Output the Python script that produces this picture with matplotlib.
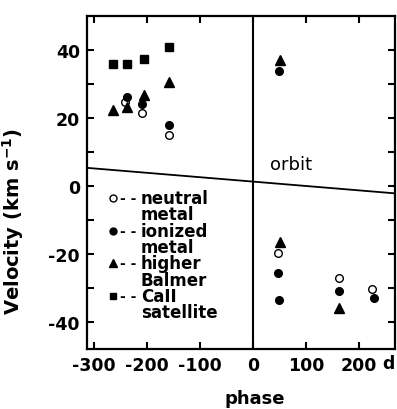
import matplotlib
matplotlib.use("Agg")
import matplotlib.pyplot as plt

plt.rcParams["font.family"] = ["DejaVu Sans"]
plt.rcParams["font.weight"] = "bold"
plt.rcParams["mathtext.default"] = "bf"

# neutral metal (open circles)
neutral_phase = [-242, -209, -159, 47, 162, 225]
neutral_vel = [24.8, 21.3, 15.1, -19.6, -27.1, -30.4]
# ionized metal (filled circles)
ionized_phase = [-238, -209, -159, 49, 47, 49, 162, 228]
ionized_vel = [26.0, 24.2, 18.0, 33.9, -25.7, -33.6, -30.9, -33.0]
# higher Balmer (triangles)
balmer_phase = [-264, -238, -206, -159, 51, 51, 162]
balmer_vel = [22.4, 23.3, 26.8, 30.4, 37.1, -16.6, -35.9]
# CaII satellite (squares)
caii_phase = [-264, -238, -206, -159]
caii_vel = [35.9, 35.9, 37.4, 40.9]

orbit_phase = [-313, 268]
orbit_vel = [5.3, -2.2]

xticks = [-300, -200, -100, 0, 100, 200]
yticks = [-40, -20, 0, 20, 40]

legend_rows = [
    ("o", "none", "neutral", "metal"),
    ("o", "black", "ionized", "metal"),
    ("^", "black", "higher", "Balmer"),
    ("s", "black", "CaII", "satellite"),
]

fig = plt.figure(figsize=(3.97, 4.10), dpi=100)
ax = fig.add_axes([0.219, 0.146, 0.776, 0.813])

ax.plot(neutral_phase, neutral_vel, "o", ms=5.5, mfc="white", mec="black", mew=1)
ax.plot(ionized_phase, ionized_vel, "o", ms=5.5, color="black")
ax.plot(balmer_phase, balmer_vel, "^", ms=7, color="black")
ax.plot(caii_phase, caii_vel, "s", ms=5.5, color="black")

ax.plot(orbit_phase, orbit_vel, color="black", lw=1.3)
ax.axvline(0, color="black", lw=1.5)
ax.text(33, 6.5, "orbit", fontsize=13, fontweight="normal", va="center")

ax.set_xlim(-313, 268)
ax.set_ylim(-48, 50)
ax.set_xticks(xticks)
ax.set_xticklabels([str(t) for t in xticks], fontsize=12.5)
ax.text(243, -49.3, "d", fontsize=12.5, va="top", ha="left")
ax.set_yticks(yticks)
ax.set_yticklabels([str(t) for t in yticks], fontsize=12.5)
ax.set_yticks(range(-40, 50, 10), minor=True)
ax.tick_params(direction="in", length=5, width=1.5, top=True, right=True, pad=5)
ax.tick_params(which="minor", direction="in", length=5, width=1.5, right=True)
for s in ax.spines.values():
    s.set_linewidth(1.6)

ax.set_xlabel("phase", fontsize=13, fontweight="bold")
ax.xaxis.set_label_coords(0.545, -0.12)
ax.set_ylabel(r"Velocity (km s$^{-1}$)", fontsize=14, fontweight="bold")
ax.yaxis.set_label_coords(-0.198, 0.385)

# legend drawn by hand: marker, dashes, two-line label
y0 = 0.453
dy = 0.049
for i, (mk, fc, l1, l2) in enumerate(legend_rows):
    y = y0 - 2 * i * dy
    ax.plot(0.084, y, mk, ms=5 if mk != "^" else 6, mfc=fc, mec="black",
            color="black", transform=ax.transAxes, clip_on=False)
    ax.text(0.108, y, "- -", fontsize=10, va="center", transform=ax.transAxes)
    ax.text(0.175, y, l1, fontsize=12, va="center", transform=ax.transAxes)
    ax.text(0.175, y - dy, l2, fontsize=12, va="center", transform=ax.transAxes)

fig.savefig("out.png", dpi=100)
